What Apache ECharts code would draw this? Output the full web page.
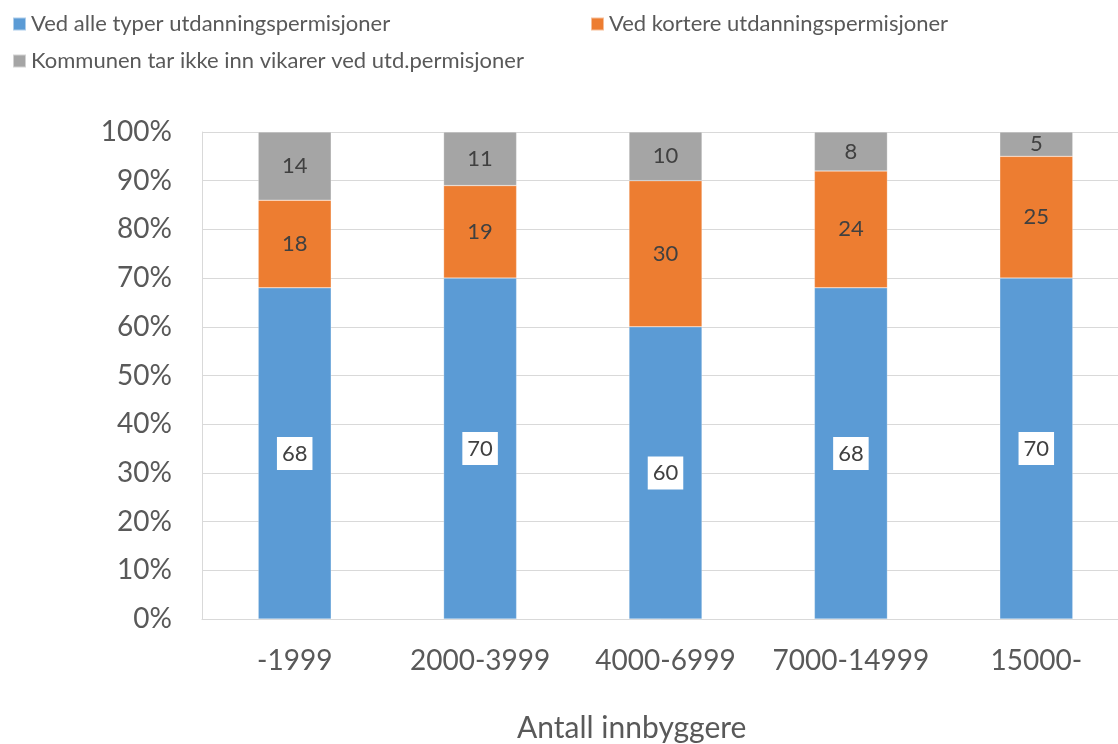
<!DOCTYPE html>
<html>
<head>
<meta charset="utf-8">
<script src="https://cdn.jsdelivr.net/npm/echarts@6/dist/echarts.min.js"></script>
<style>html,body{margin:0;padding:0;background:#fff}#c{width:1118px;height:744px}</style>
</head>
<body>
<div id="c"></div>
<script>
const categories = ['-1999', '2000-3999', '4000-6999', '7000-14999', '15000-'];
const seriesNames = ['Ved alle typer utdanningspermisjoner', 'Ved kortere utdanningspermisjoner', 'Kommunen tar ikke inn vikarer ved utd.permisjoner'];
const alleTyper = [68, 70, 60, 68, 70];
const kortere = [18, 19, 30, 24, 25];
const ikkeVikar = [14, 11, 10, 8, 5];
const yTicks = [0, 10, 20, 30, 40, 50, 60, 70, 80, 90, 100];
const xTitle = 'Antall innbyggere';

const FONT = 'Lato';
const chart = echarts.init(document.getElementById('c'), null, {renderer: 'canvas'});
const legendBase = {
  itemWidth: 13, itemHeight: 13, itemGap: 6, icon: 'rect', padding: 0,
  textStyle: {fontFamily: FONT, fontSize: 22, color: '#595959'}
};
chart.setOption({
  animation: false,
  textStyle: {fontFamily: FONT},
  color: ['#5B9BD5', '#ED7D31', '#A5A5A5'],
  legend: [
    Object.assign({}, legendBase, {data: [seriesNames[0]], left: 12, top: 13}),
    Object.assign({}, legendBase, {data: [seriesNames[1]], left: 590, top: 13}),
    Object.assign({}, legendBase, {data: [seriesNames[2]], left: 12, top: 50})
  ],
  title: {
    text: xTitle, left: 512, top: 708,
    textStyle: {fontFamily: FONT, fontSize: 30, fontWeight: 'normal', color: '#595959'}
  },
  grid: {left: 202, top: 132, height: 487, width: 927, outerBoundsMode: 'none', containLabel: false},
  xAxis: {
    type: 'category', data: categories,
    axisLine: {show: true, lineStyle: {color: '#d9d9d9', width: 1}},
    axisTick: {show: false},
    axisLabel: {fontFamily: FONT, fontSize: 28, color: '#595959', margin: 28, interval: 0}
  },
  yAxis: {
    type: 'value', min: 0, max: 100, interval: 10,
    axisLine: {show: true, lineStyle: {color: '#d9d9d9', width: 1}},
    axisTick: {show: false},
    splitLine: {lineStyle: {color: '#d9d9d9', width: 1}},
    axisLabel: {fontFamily: FONT, fontSize: 28, color: '#595959', margin: 30,
      formatter: v => yTicks.includes(v) ? v + '%' : ''}
  },
  series: [
    {name: seriesNames[0], type: 'bar', stack: 's', data: alleTyper, barWidth: 73,
      itemStyle: {borderColor: 'rgba(255,255,255,0.5)', borderWidth: 0.5},
      label: {show: true, position: 'inside', fontFamily: FONT, fontSize: 22, color: '#404040',
        backgroundColor: '#fff', padding: [6, 5, 5, 5]}},
    {name: seriesNames[1], type: 'bar', stack: 's', data: kortere, barWidth: 73,
      itemStyle: {borderColor: 'rgba(255,255,255,0.5)', borderWidth: 0.5},
      label: {show: true, position: 'inside', fontFamily: FONT, fontSize: 22, color: '#404040'}},
    {name: seriesNames[2], type: 'bar', stack: 's', data: ikkeVikar, barWidth: 73,
      itemStyle: {borderColor: 'rgba(255,255,255,0.5)', borderWidth: 0.5},
      label: {show: true, position: 'inside', fontFamily: FONT, fontSize: 22, color: '#404040'}}
  ]
});
</script>
</body>
</html>
